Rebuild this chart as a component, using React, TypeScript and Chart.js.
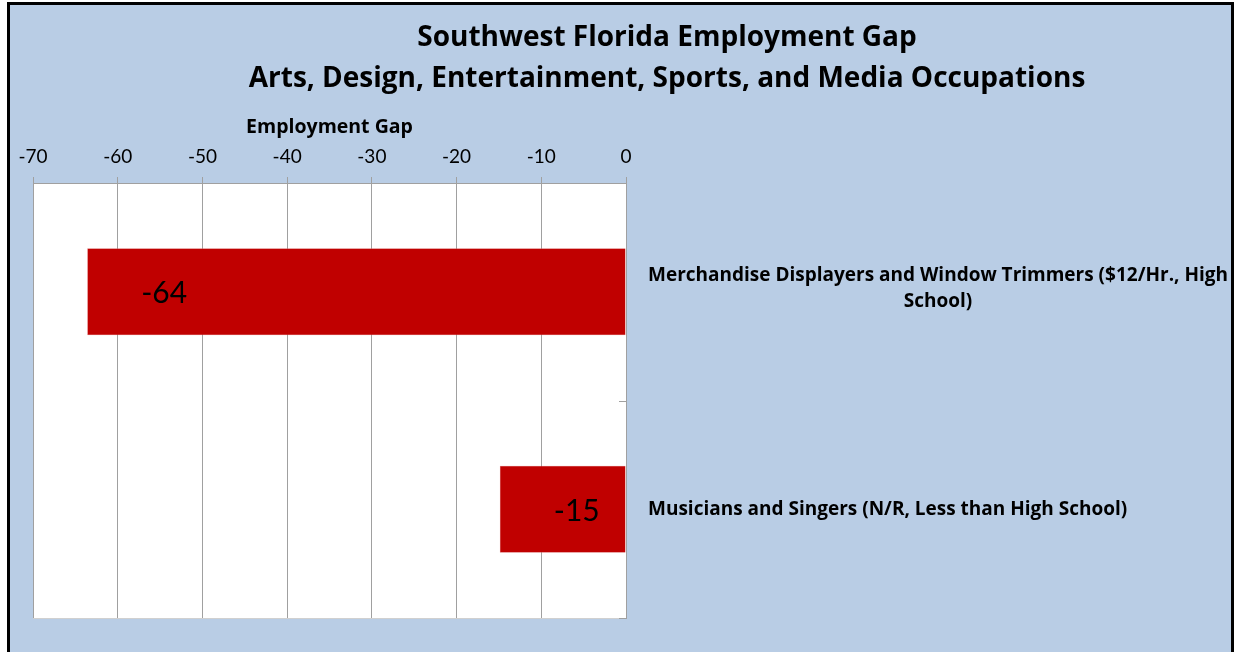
import React, { useEffect, useRef } from "react";
import { Chart, registerables } from "chart.js";

Chart.register(...registerables);

const titleLines = [
  "Southwest Florida Employment Gap",
  "Arts, Design, Entertainment, Sports, and Media Occupations",
];
const axisTitle = "Employment Gap";
const categories: string[][] = [
  ["Merchandise Displayers and Window Trimmers ($12/Hr., High", "School)"],
  ["Musicians and Singers (N/R, Less than High School)"],
];
const gapValues = [-63.6, -14.9];
const xMin = -70;
const xMax = 0;
const xStep = 10;

const BOLD = "'Open Sans', Lato, sans-serif";
const REG = "Lato, 'Open Sans', sans-serif";
const GRID = "#A0A0A0";
const CANVAS_W = 1301;
const PLOT_RIGHT = 626;

const overlayPlugin = {
  id: "overlay",
  beforeDraw(chart: any) {
    const { ctx, chartArea } = chart;
    ctx.save();
    ctx.fillStyle = "#FFFFFF";
    ctx.fillRect(chartArea.left, chartArea.top, chartArea.right - chartArea.left, chartArea.bottom - chartArea.top);
    ctx.strokeStyle = "#D0D0D0";
    ctx.lineWidth = 1;
    ctx.beginPath();
    ctx.moveTo(chartArea.left, chartArea.bottom + 0.5);
    ctx.lineTo(chartArea.right, chartArea.bottom + 0.5);
    ctx.stroke();
    ctx.restore();
  },
  afterDraw(chart: any) {
    const { ctx, chartArea } = chart;
    const yScale = chart.scales.y;
    const meta = chart.getDatasetMeta(0);
    ctx.save();
    // inward ticks at category boundaries
    ctx.strokeStyle = GRID;
    ctx.lineWidth = 1;
    const bounds: number[] = [];
    for (let i = 0; i < categories.length - 1; i++) {
      bounds.push((yScale.getPixelForValue(i) + yScale.getPixelForValue(i + 1)) / 2);
    }
    bounds.push(chartArea.bottom);
    ctx.beginPath();
    for (const b of bounds) {
      ctx.moveTo(chartArea.right - 7, Math.round(b) + 0.5);
      ctx.lineTo(chartArea.right, Math.round(b) + 0.5);
    }
    ctx.stroke();

    // data labels
    ctx.fillStyle = "#000000";
    ctx.font = `30px ${REG}`;
    ctx.textAlign = "left";
    ctx.textBaseline = "middle";
    meta.data.forEach((bar: any, i: number) => {
      ctx.fillText(gapValues[i].toFixed(0), bar.x + 54, bar.y + 2);
    });

    // category labels
    ctx.font = `bold 19px ${BOLD}`;
    ctx.textAlign = "center";
    const left = chartArea.right + 22;
    categories.forEach((lines, i) => {
      const y = yScale.getPixelForValue(i);
      const w = Math.max(...lines.map((l) => ctx.measureText(l).width));
      const n = lines.length;
      const lh = 26;
      const base = y - ((n - 1) * lh) / 2 - (n > 1 ? 3 : 0);
      lines.forEach((l, j) => {
        ctx.fillText(l, left + w / 2, base + j * lh);
      });
    });
    ctx.restore();
  },
};

export default function App() {
  const ref = useRef<HTMLCanvasElement | null>(null);
  useEffect(() => {
    if (!ref.current) return;
    const chart = new Chart(ref.current, {
      type: "bar",
      data: {
        labels: categories.map((c) => c.join(" ")),
        datasets: [
          {
            data: gapValues,
            backgroundColor: "#C00000",
            borderColor: "#E08080",
            borderWidth: 0.5,
            barPercentage: 0.4,
            categoryPercentage: 1.0,
          },
        ],
      },
      options: {
        indexAxis: "y",
        animation: false,
        responsive: false,
        maintainAspectRatio: false,
        layout: { padding: { left: 33, right: 0, top: 0, bottom: 34 } },
        plugins: {
          legend: { display: false },
          tooltip: { enabled: false },
          title: {
            display: true,
            text: titleLines,
            color: "#000000",
            font: { family: BOLD, size: 28, weight: "bold", lineHeight: "41px" },
            padding: { top: 18, bottom: 0 },
          },
        },
        scales: {
          x: {
            type: "linear",
            position: "top",
            min: xMin,
            max: xMax,
            afterFit: (s: any) => {
              s.height = 83;
            },
            ticks: {
              stepSize: xStep,
              color: "#000000",
              font: { family: REG, size: 19 },
              padding: 9,
            },
            grid: {
              color: GRID,
              tickLength: 6,
              drawTicks: true,
            },
            border: { display: true, color: GRID },
            title: {
              display: true,
              text: axisTitle,
              color: "#000000",
              font: { family: BOLD, size: 19.5, weight: "bold", lineHeight: "22px" },
              padding: { top: 16, bottom: 0 },
            },
          },
          y: {
            type: "category",
            position: "right",
            afterFit: (s: any) => {
              s.width = CANVAS_W - PLOT_RIGHT;
            },
            ticks: { display: false },
            grid: { display: true, drawOnChartArea: false, drawTicks: false },
            border: { display: true, color: GRID },
          },
        },
      },
      plugins: [overlayPlugin],
    } as any);
    return () => chart.destroy();
  }, []);

  return (
    <div
      style={{
        position: "absolute",
        left: 0,
        top: 0,
        width: 1234,
        height: 652,
        overflow: "hidden",
        background: "#FFFFFF",
      }}
    >
      <div
        style={{
          position: "absolute",
          left: 7,
          top: 2,
          width: 1227,
          height: 700,
          boxSizing: "border-box",
          border: "3px solid #000000",
          background: "#B9CDE5",
        }}
      />
      <canvas
        ref={ref}
        width={CANVAS_W}
        height={652}
        style={{ position: "absolute", left: 0, top: 0, width: CANVAS_W, height: 652 }}
      />
    </div>
  );
}
